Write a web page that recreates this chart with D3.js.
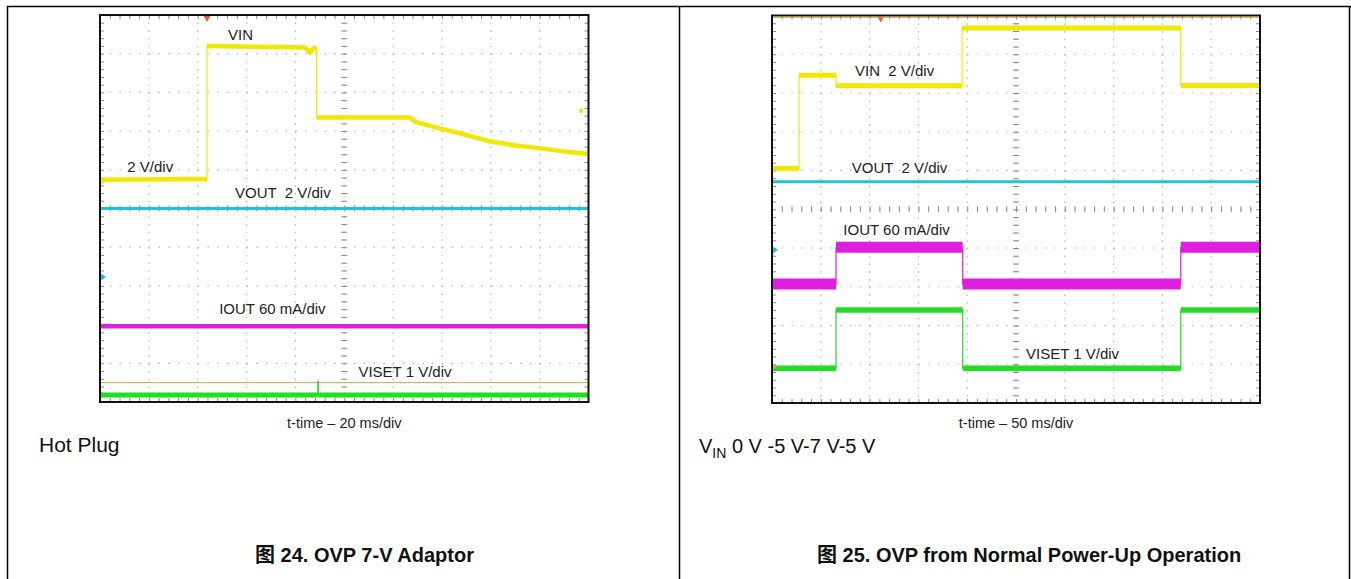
<!DOCTYPE html>
<html>
<head>
<meta charset="utf-8">
<script src="https://cdn.jsdelivr.net/npm/d3@7"></script>
<style>
  body { margin: 0; background: #fff; }
  text { font-family: "Liberation Sans", Arial, "Noto Sans CJK SC", sans-serif; }
</style>
</head>
<body>
<svg id="chart" width="1351" height="579"></svg>
<script>
// ---------- data (times in ms, values in V or mA) ----------
// 图 24 hot plug, 20 ms/div
const hpVinT  = [0, 43.8, 43.8, 84, 86, 87.5, 88.7, 88.7, 126.9, 129, 139, 150, 160, 170, 180, 190, 200];
const hpVinV  = [0.08, 0.12, 7.0, 6.92, 6.65, 6.9, 6.88, 3.3, 3.3, 3.08, 2.74, 2.40, 2.06, 1.86, 1.72, 1.54, 1.42];
const hpVoutT = [0, 200];
const hpVoutV = [3.54, 3.54];
const hpIoutT = [0, 200];
const hpIoutV = [0, 0];
const hpIsetT = [0, 89.2, 89.2, 89.4, 89.4, 200];
const hpIsetV = [0, 0, 0.34, 0.34, 0, 0];
const hpCursorV = 0.32;          // orange level line over VISET
const hpGlitch = [197, 3.64];    // lone VIN sample near right edge

// 图 25 normal power-up, 50 ms/div
const puVinT  = [0, 27.7, 27.7, 65.6, 65.6, 194.7, 194.7, 418.8, 418.8, 500];
const puVinV  = [0.05, 0.05, 4.85, 4.85, 4.31, 4.31, 7.29, 7.29, 4.33, 4.33];
const puVoutT = [0, 500];
const puVoutV = [3.52, 3.52];
const puIoutT = [0, 65.6, 65.6, 195.4, 195.4, 418.8, 418.8, 500];
const puIoutV = [0, 0, 57, 57, 0, 0, 57, 57];
const puIsetT = [0, 65.6, 65.6, 195.4, 195.4, 418.8, 418.8, 500];
const puIsetV = [0, 0, 1.5, 1.5, 0, 0, 1.5, 1.5];

const COL = { vin: "#f0e800", vout: "#1fc4d4", iout: "#e01ee0", iset: "#22de22", cur: "#d9a040" };

const scopes = [
  {
    x0: 100, y0: 15, w: 488.5, h: 387, tMax: 200, trig: 43.8,
    chans: [
      { T: hpVinT,  V: hpVinV,  ref: 5.70, per: 2,  col: COL.vin,  sw: 4.5 },
      { T: hpVoutT, V: hpVoutV, ref: 3.23, per: 2,  col: COL.vout, sw: 3 },
      { T: hpIoutT, V: hpIoutV, ref: 1.96, per: 60, col: COL.iout, sw: 4.5, noMark: true },
      { T: hpIsetT, V: hpIsetV, ref: 0.18, per: 1,  col: COL.iset, sw: 5 }
    ],
    labels: [
      ["VIN", 52.4, 9.35], ["2 V/div", 11.2, 5.95], ["VOUT  2 V/div", 55.3, 5.26],
      ["IOUT 60 mA/div", 48.8, 2.27], ["VISET 1 V/div", 105.8, 0.65]
    ],
    xlab: "t-time \u2013 20 ms/div"
  },
  {
    x0: 772, y0: 15.5, w: 488, h: 387.5, tMax: 500, trig: 111.4,
    chans: [
      { T: puVinT,  V: puVinV,  ref: 6.03, per: 2,  col: COL.vin,  sw: 5 },
      { T: puVoutT, V: puVoutV, ref: 3.95, per: 2,  col: COL.vout, sw: 3 },
      { T: puIoutT, V: puIoutV, ref: 3.07, per: 60, col: COL.iout, sw: 11 },
      { T: puIsetT, V: puIsetV, ref: 0.90, per: 1,  col: COL.iset, sw: 5.5 }
    ],
    labels: [
      ["VIN  2 V/div", 85.0, 8.45], ["VOUT  2 V/div", 81.7, 5.93],
      ["IOUT 60 mA/div", 73.1, 4.34], ["VISET 1 V/div", 260.2, 1.13]
    ],
    xlab: "t-time \u2013 50 ms/div"
  }
];

const svg = d3.select("#chart");

// outer page frame
svg.append("path")
  .attr("d", "M7.5,579V6.5H1351M679.5,6.5V579M1349.5,6.5V579")
  .attr("fill", "none").attr("stroke", "#000").attr("stroke-width", 1.5);

function drawScope(s, idx) {
  const x = d3.scaleLinear().domain([0, s.tMax]).range([s.x0, s.x0 + s.w]);
  const y = d3.scaleLinear().domain([0, 10]).range([s.y0 + s.h, s.y0]);
  const g = svg.append("g");
  const hd = s.w / 10, vd = s.h / 10;

  g.append("rect").attr("x", s.x0).attr("y", s.y0).attr("width", s.w).attr("height", s.h).attr("fill", "#fff");

  // dotted graticule
  const divs = d3.range(1, 10);
  g.selectAll("line.gv").data(divs).enter().append("line")
    .attr("x1", d => x(d * s.tMax / 10)).attr("x2", d => x(d * s.tMax / 10))
    .attr("y1", s.y0).attr("y2", s.y0 + s.h)
    .attr("stroke", "#b4b4b4").attr("stroke-width", 1.2)
    .attr("stroke-dasharray", `1.4,${vd / 5 - 1.4}`);
  g.selectAll("line.gh").data(divs).enter().append("line")
    .attr("y1", d => y(d)).attr("y2", d => y(d))
    .attr("x1", s.x0).attr("x2", s.x0 + s.w)
    .attr("stroke", "#b4b4b4").attr("stroke-width", 1.2)
    .attr("stroke-dasharray", `1.4,${hd / 5 - 1.4}`);

  // minor ticks on edges and centre cross
  const tT = d3.range(1, 50).map(i => i * s.tMax / 50);
  const tV = d3.range(1, 50).map(i => i / 5);
  const tick = (axis, tx) => g.append("g").attr("transform", tx).call(axis)
    .call(a => a.select(".domain").remove())
    .call(a => a.selectAll("line").attr("stroke", "#8a8a8a"))
    .call(a => a.selectAll("text").remove());
  tick(d3.axisTop(x).tickValues(tT).tickSize(4), `translate(0,${s.y0 + s.h})`);
  tick(d3.axisBottom(x).tickValues(tT).tickSize(4), `translate(0,${s.y0})`);
  tick(d3.axisRight(y).tickValues(tV).tickSize(4), `translate(${s.x0},0)`);
  tick(d3.axisLeft(y).tickValues(tV).tickSize(4), `translate(${s.x0 + s.w},0)`);
  tick(d3.axisTop(x).tickValues(tT).tickSize(3), `translate(0,${y(5)})`);
  tick(d3.axisBottom(x).tickValues(tT).tickSize(3), `translate(0,${y(5)})`);
  tick(d3.axisLeft(y).tickValues(tV).tickSize(3), `translate(${x(s.tMax / 2)},0)`);
  tick(d3.axisRight(y).tickValues(tV).tickSize(3), `translate(${x(s.tMax / 2)},0)`);

  if (idx === 0) {
    g.append("line").attr("x1", s.x0).attr("x2", s.x0 + s.w)
      .attr("y1", y(0.18 + hpCursorV)).attr("y2", y(0.18 + hpCursorV))
      .attr("stroke", COL.cur).attr("stroke-width", 1);
  }

  // traces: flat parts thick (noise band), edges thin
  s.chans.forEach(c => {
    const pts = c.T.map((t, i) => [x(t), y(c.ref + c.V[i] / c.per)]);
    g.append("path").attr("d", d3.line()(pts))
      .attr("fill", "none").attr("stroke", c.col).attr("stroke-width", 1.2);
    const segs = [];
    let cur = [pts[0]];
    for (let i = 1; i < pts.length; i++) {
      if (c.T[i] === c.T[i - 1]) { segs.push(cur); cur = [pts[i]]; }
      else cur.push(pts[i]);
    }
    segs.push(cur);
    g.selectAll(null).data(segs.filter(d => d.length > 1)).enter().append("path")
      .attr("d", d3.line())
      .attr("fill", "none").attr("stroke", c.col).attr("stroke-width", c.sw)
      .attr("stroke-linejoin", "round");
    if (!c.noMark) {
      const my = y(c.ref);
      g.append("path").attr("d", `M${s.x0},${my - 4}L${s.x0 + 6},${my}L${s.x0},${my + 4}Z`)
        .attr("fill", c.col);
    }
  });
  if (idx === 1) {
    const my = y(0.92);
    g.append("path").attr("d", `M${s.x0},${my - 3}L${s.x0 + 5},${my}L${s.x0},${my + 3}Z`).attr("fill", COL.cur);
  } else {
    g.append("circle").attr("cx", x(hpGlitch[0])).attr("cy", y(5.70 + hpGlitch[1] / 2))
      .attr("r", 2.2).attr("fill", COL.vin);
  }

  // trigger marker
  const tx = x(s.trig);
  g.append("path").attr("d", `M${tx - 3.5},${s.y0 + 1}L${tx + 3.5},${s.y0 + 1}L${tx},${s.y0 + 7}Z`)
    .attr("fill", "#e2603a");

  // border
  g.append("rect").attr("x", s.x0).attr("y", s.y0).attr("width", s.w).attr("height", s.h)
    .attr("fill", "none").attr("stroke", "#111").attr("stroke-width", 2);
  if (idx === 1) {
    g.append("line").attr("x1", s.x0 + 1).attr("x2", s.x0 + s.w - 1)
      .attr("y1", s.y0 + 1.8).attr("y2", s.y0 + 1.8).attr("stroke", COL.cur).attr("stroke-width", 1);
  }

  // channel labels
  g.selectAll("text.lab").data(s.labels).enter().append("text")
    .attr("x", d => x(d[1])).attr("y", d => y(d[2]))
    .style("white-space", "pre")
    .attr("font-size", 15).attr("fill", "#222")
    .text(d => d[0]);

  svg.append("text").attr("x", x(s.tMax / 2)).attr("y", 428)
    .attr("text-anchor", "middle").attr("font-size", 14.5).attr("fill", "#222")
    .text(s.xlab);
}

scopes.forEach(drawScope);

// notes under the scopes
svg.append("text").attr("x", 39).attr("y", 452).attr("font-size", 21).attr("fill", "#111").text("Hot Plug");
const vt = svg.append("text").attr("x", 699).attr("y", 453).attr("font-size", 20).attr("fill", "#111")
  .style("white-space", "pre");
vt.append("tspan").text("V");
vt.append("tspan").attr("dy", 5).attr("font-size", 14).text("IN");
vt.append("tspan").attr("dy", -5).text(" 0 V -5 V-7 V-5 V");

// figure captions
svg.append("text").attr("x", 255).attr("y", 562).attr("font-size", 20).attr("font-weight", "bold")
  .attr("fill", "#111").text("图 24. OVP 7-V Adaptor");
svg.append("text").attr("x", 817).attr("y", 562).attr("font-size", 20).attr("font-weight", "bold")
  .attr("fill", "#111").text("图 25. OVP from Normal Power-Up Operation");
</script>
</body>
</html>
